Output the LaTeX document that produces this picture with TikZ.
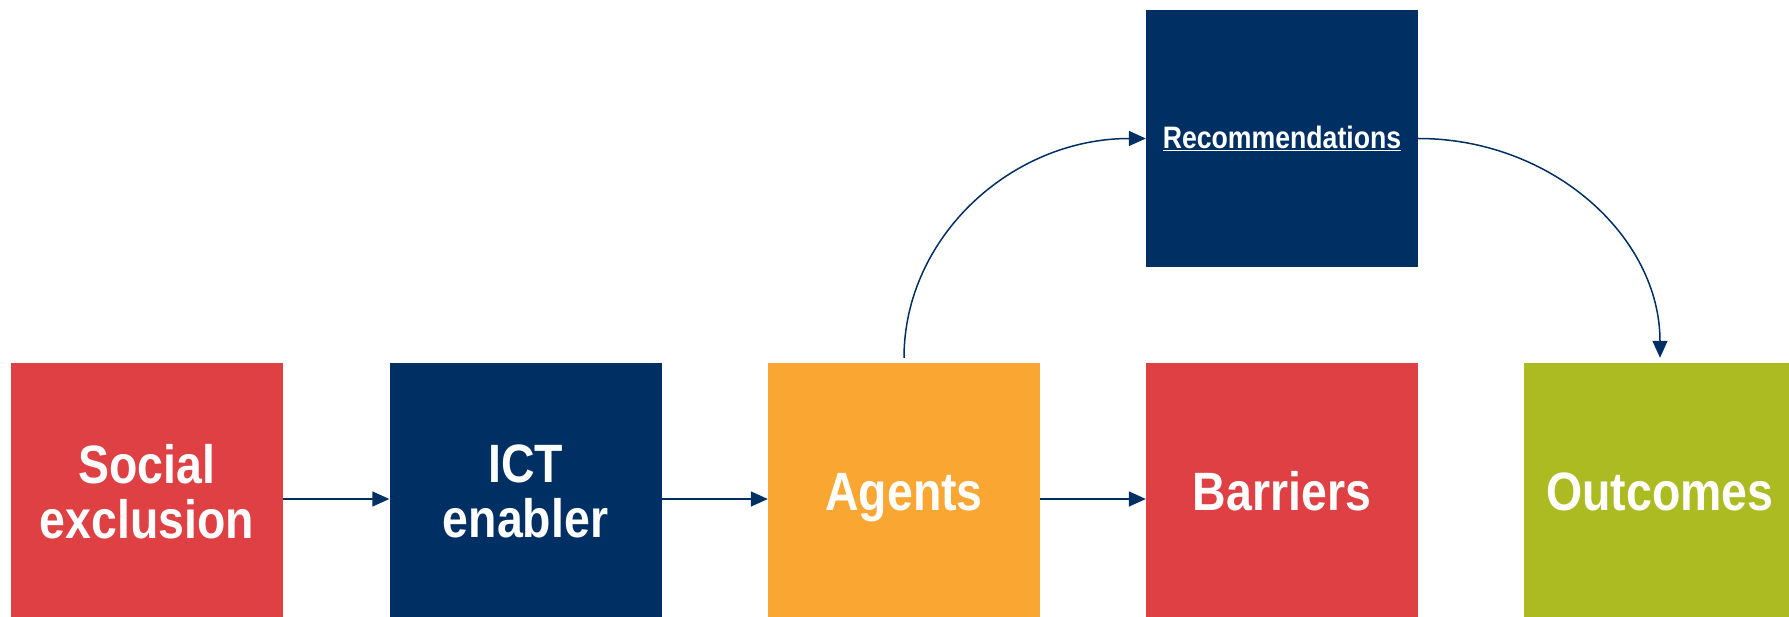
\documentclass[tikz,border=0pt]{standalone}
\usepackage{fontspec}
\setmainfont{Liberation Sans}
\newfontfamily\boxfont[FakeStretch=0.86]{Liberation Sans}
\usetikzlibrary{arrows.meta}
\definecolor{exred}{RGB}{222,64,67}
\definecolor{navyblue}{RGB}{0,48,99}
\definecolor{agorange}{RGB}{249,166,50}
\definecolor{outgreen}{RGB}{173,187,34}

\begin{document}
\begin{tikzpicture}[x=1pt,y=-1pt,
    box/.style={minimum width=272pt,minimum height=257pt,inner sep=0pt,
        text=white,align=center,font=\boxfont\bfseries\fontsize{54}{55}\selectfont},
    link/.style={draw=navyblue,line width=1.5pt,-{Triangle[length=17pt,width=15pt]}}]
    \useasboundingbox (0,0) rectangle (1789,617);

    \node[box,fill=exred] (social) at (147,491.5) {Social\\exclusion};
    \node[box,fill=navyblue] (ict) at (525.5,491.5) {ICT\\enabler};
    \node[box,fill=agorange,text depth=0pt] (agents) at (904,491.5) {Agents};
    \node[box,fill=exred] (barriers) at (1282,491.5) {Barriers};
    \node[box,fill=outgreen] (outcomes) at (1660,491.5) {Outcomes};
    \node[box,fill=navyblue,font=\boxfont\bfseries\fontsize{31}{34}\selectfont]
        (rec) at (1282,138.5) {\underline{Recommendations}};

    \foreach \a/\b in {social/ict,ict/agents,agents/barriers}
        \draw[link] ([yshift=-7.5pt]\a.east) -- ([yshift=-7.5pt]\b.west);

    \draw[link] ([yshift=5pt]agents.north) .. controls +(0,-121) and +(-134,0) .. (rec.west);
    \draw[link] (rec.east) .. controls +(134,0) and +(0,-121) .. ([yshift=5pt]outcomes.north);

\end{tikzpicture}
\end{document}
